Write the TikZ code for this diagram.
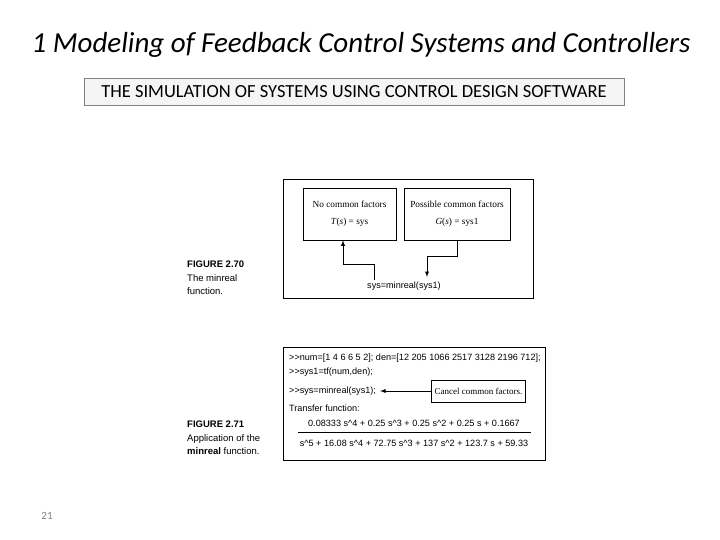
\documentclass[tikz,border=0pt]{standalone}
\usepackage{fontspec}
\setmainfont{Carlito}
\newfontfamily\figsans{Liberation Sans}
\newfontfamily\figserif{Liberation Serif}
\usetikzlibrary{positioning}
\tikzset{
  figbox/.style={draw,line width=0.8pt},
  inbox/.style={draw,line width=0.7pt,minimum width=93pt,minimum height=52pt,align=center,font=\figserif\fontsize{9.3}{17}\selectfont},
  code/.style={anchor=west,inner sep=0pt,font=\figsans\fontsize{9.1}{10}\selectfont},
  figcap/.style={anchor=north west,inner sep=0pt,align=left,font=\figsans\fontsize{9.5}{13.5}\selectfont},
  flow/.style={line width=0.9pt,-latex}
}
\begin{document}
\begin{tikzpicture}[x=1pt,y=-1pt]
  \useasboundingbox (0,0) rectangle (720,540);
  \node (title) at (361,45) {\fontsize{29}{32}\selectfont\itshape 1 Modeling of Feedback Control Systems and Controllers};
  \node[draw=gray,fill=gray!8,minimum width=540pt,minimum height=27pt] (head) at (354,91.5) {\fontsize{18.5}{20}\selectfont THE SIMULATION OF SYSTEMS USING CONTROL DESIGN SOFTWARE};
  % figure 2.70
  \draw[figbox] (283,179) rectangle (533,298);
  \node[inbox,minimum width=93pt] (nocf) at (349.5,214) {No common factors\\\textit{T}(\textit{s}) = sys};
  \node[inbox,minimum width=106pt] (poscf) at (457,214) {Possible common factors\\\textit{G}(\textit{s}) = sys1};
  \node[code] (minr) at (367,286) {sys=minreal(sys1)};
  \draw[flow] (374,280) |- (343,264) -- (nocf.south -| 343,0);
  \draw[flow] (poscf.south) |- (427,256) -- (427,277);
  \node[figcap] (cap70) at (187,261) {\textbf{FIGURE 2.70}\\The minreal\\function.};
  % figure 2.71
  \draw[figbox] (283,347) rectangle (545,460);
  \node[code] (l1) at (289,358) {>{}>num=[1 4 6 6 5 2]; den=[12 205 1066 2517 3128 2196 712];};
  \node[code] (l2) at (289,372) {>{}>sys1=tf(num,den);};
  \node[code] (l3) at (289,391) {>{}>sys=minreal(sys1);};
  \node[draw,line width=0.7pt,minimum width=93pt,minimum height=22pt,font=\figserif\fontsize{9}{10}\selectfont] (cancel) at (478.5,391) {Cancel common factors.};
  \draw[flow] (cancel.west) -- ([xshift=4pt]l3.east);
  \node[code] (l4) at (289,408) {Transfer function:};
  \node[code,anchor=center] (num) at (414,423) {0.08333 s\^{}4 + 0.25 s\^{}3 + 0.25 s\^{}2 + 0.25 s + 0.1667};
  \draw (298,432.5) -- (531,432.5);
  \node[code,anchor=center] (den) at (414,443) {s\^{}5 + 16.08 s\^{}4 + 72.75 s\^{}3 + 137 s\^{}2 + 123.7 s + 59.33};
  \node[figcap] (cap71) at (187,421) {\textbf{FIGURE 2.71}\\Application of the\\\textbf{minreal} function.};
  \node[text=gray] (page) at (47,516) {\fontsize{11}{12}\selectfont 21};
\end{tikzpicture}
\end{document}
